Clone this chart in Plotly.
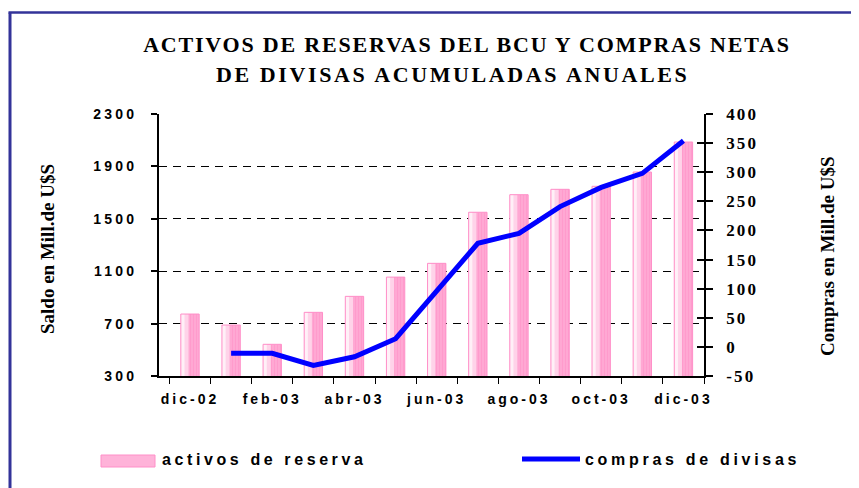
import plotly.graph_objects as go

categories = ['dic-02', 'ene-03', 'feb-03', 'mar-03', 'abr-03', 'may-03', 'jun-03',
              'jul-03', 'ago-03', 'sep-03', 'oct-03', 'nov-03', 'dic-03']
activos = [773, 689, 542, 786, 908, 1055, 1160, 1550, 1684, 1725, 1748, 1857, 2086]
compras = [None, -11, -11, -32, -17, 14, 95, 178, 195, 241, 274, 298, 354]

left_ticks = [300, 700, 1100, 1500, 1900, 2300]
right_ticks = [-50, 0, 50, 100, 150, 200, 250, 300, 350, 400]
x_labels = [c if i % 2 == 0 else '' for i, c in enumerate(categories)]

# page coordinates (the page body has an 8px default margin)
PW, PH = 859, 488
O = 8
W, H = PW - O, PH - O
L, R, T, B = 159, 704, 114, 376


def px(x):
    return (x - L) / (R - L)


def py(y):
    return (B - y) / (B - T)


def sp(t, s):
    return f'<span style="letter-spacing:{s}px;font-weight:bold">{t}</span>'


sans = 'Liberation Sans, Arial, sans-serif'
serif = 'Liberation Serif, Times New Roman, serif'

BW = 0.446  # bar width in category units

fig = go.Figure()
# bar body (pink) plus lighter left bands to mimic the gradient fill
fig.add_trace(go.Bar(
    x=categories, y=activos, name='activos de reserva',
    width=BW, offset=-BW / 2,
    marker=dict(color='#FFA3D1', line=dict(width=0),
                pattern=dict(shape='|', fgcolor='#FF8EC6', bgcolor='#FFA8D3',
                             size=3, solidity=0.35)),
    showlegend=False, yaxis='y'))
fig.add_trace(go.Bar(
    x=categories, y=activos, width=BW * 0.42, offset=-BW / 2,
    marker=dict(color='#FFD3E9', line=dict(width=0)),
    showlegend=False, hoverinfo='skip', yaxis='y'))
fig.add_trace(go.Bar(
    x=categories, y=activos, width=BW * 0.2, offset=-BW / 2,
    marker=dict(color='#FFF0F7', line=dict(width=0)),
    showlegend=False, hoverinfo='skip', yaxis='y'))
fig.add_trace(go.Bar(
    x=categories, y=activos, width=BW, offset=-BW / 2,
    marker=dict(color='rgba(0,0,0,0)', line=dict(color='#FF8FC8', width=1)),
    showlegend=False, hoverinfo='skip', yaxis='y'))
fig.add_trace(go.Scatter(
    x=categories, y=compras, name='compras de divisas', mode='lines',
    line=dict(color='#0000FF', width=5), yaxis='y2', showlegend=False,
    connectgaps=False))
fig.add_trace(go.Scatter(x=[categories[0]], y=[None], yaxis='y3',
                         showlegend=False, hoverinfo='skip'))

fig.update_layout(
    width=W, height=H, autosize=False,
    margin=dict(l=L - O, r=PW - R, t=T - O, b=PH - B, autoexpand=False),
    paper_bgcolor='white', plot_bgcolor='white',
    barmode='overlay',
    title=dict(
        text=sp('ACTIVOS DE RESERVAS DEL BCU Y COMPRAS NETAS', 1.8),
        x=(467 - O) / W, xanchor='center', y=1 - 36 / H, yanchor='middle',
        font=dict(family=serif, size=22, color='black', weight=700)),
    xaxis=dict(
        type='category', categoryorder='array', categoryarray=categories,
        tickmode='array', tickvals=categories,
        ticktext=[sp(t, 3) for t in x_labels], tickangle=0, automargin=False,
        tickson='boundaries', ticks='outside', ticklen=6, tickwidth=1,
        tickcolor='black', showline=True, linecolor='black', linewidth=2,
        showgrid=False, ticklabelstandoff=9,
        tickfont=dict(family=sans, size=14, color='black', weight=700)),
    yaxis=dict(
        range=[300, 2300], tickmode='array', tickvals=left_ticks,
        ticktext=[sp(v, 3.2) for v in left_ticks], automargin=False,
        ticks='outside', ticklen=6, tickwidth=1.5, tickcolor='black',
        showline=True, linecolor='black', linewidth=2,
        showgrid=True, gridcolor='black', gridwidth=1, griddash='8px,6px',
        zeroline=False, ticklabelstandoff=11,
        tickfont=dict(family=sans, size=14, color='black', weight=700)),
    yaxis2=dict(
        range=[-50, 400], overlaying='y', side='right', tickmode='array',
        tickvals=right_ticks, ticktext=[sp(v, 2.2) for v in right_ticks],
        automargin=False,
        ticks='outside', ticklen=7, tickwidth=1.5, tickcolor='black',
        showline=True, linecolor='black', linewidth=1.5,
        showgrid=False, zeroline=False, ticklabelstandoff=10,
        tickfont=dict(family=serif, size=17, color='black', weight=700)),
    yaxis3=dict(
        range=[-50, 400], overlaying='y', side='right', tickmode='array',
        tickvals=right_ticks, ticks='inside', ticklen=7, tickwidth=1.5,
        tickcolor='black', showticklabels=False, showgrid=False,
        zeroline=False, showline=False, automargin=False),
)

# second title line
fig.add_annotation(text=sp('DE DIVISAS ACUMULADAS ANUALES', 2.6),
                   xref='paper', yref='paper', x=px(452), y=py(74),
                   xanchor='center', yanchor='middle', showarrow=False,
                   font=dict(family=serif, size=22, color='black', weight=700))

# outer frame
fig.add_shape(type='line', xref='paper', yref='paper',
              x0=px(8.5), x1=px(PW + 2), y0=py(12.5), y1=py(12.5),
              line=dict(color='#333399', width=2.5))
fig.add_shape(type='line', xref='paper', yref='paper',
              x0=px(10), x1=px(10), y0=py(12.5), y1=py(PH + 2),
              line=dict(color='#333399', width=3))

# manual legend
fig.add_shape(type='rect', xref='paper', yref='paper',
              x0=px(101), x1=px(155), y0=py(467), y1=py(455),
              line=dict(color='#FF8FC8', width=1), fillcolor='#FFB3D9')
fig.add_shape(type='line', xref='paper', yref='paper',
              x0=px(522), x1=px(580), y0=py(459), y1=py(459),
              line=dict(color='#0000FF', width=5))
fig.add_annotation(text=sp('activos de reserva', 3.6), xref='paper', yref='paper',
                   x=px(160), y=py(460), xanchor='left', yanchor='middle',
                   showarrow=False,
                   font=dict(family=sans, size=16, color='black', weight=700))
fig.add_annotation(text=sp('compras de divisas', 3.7), xref='paper', yref='paper',
                   x=px(583), y=py(460), xanchor='left', yanchor='middle',
                   showarrow=False,
                   font=dict(family=sans, size=16, color='black', weight=700))

# axis titles
fig.add_annotation(text='Saldo en Mill.de U$S', xref='paper', yref='paper',
                   x=px(47), y=py(249), xanchor='center', yanchor='middle',
                   textangle=-90, showarrow=False,
                   font=dict(family=serif, size=19, color='black', weight=700))
fig.add_annotation(text='Compras en Mill.de U$S', xref='paper', yref='paper',
                   x=px(827), y=py(256), xanchor='center', yanchor='middle',
                   textangle=-90, showarrow=False,
                   font=dict(family=serif, size=19, color='black', weight=700))

fig.write_html('out.html')
